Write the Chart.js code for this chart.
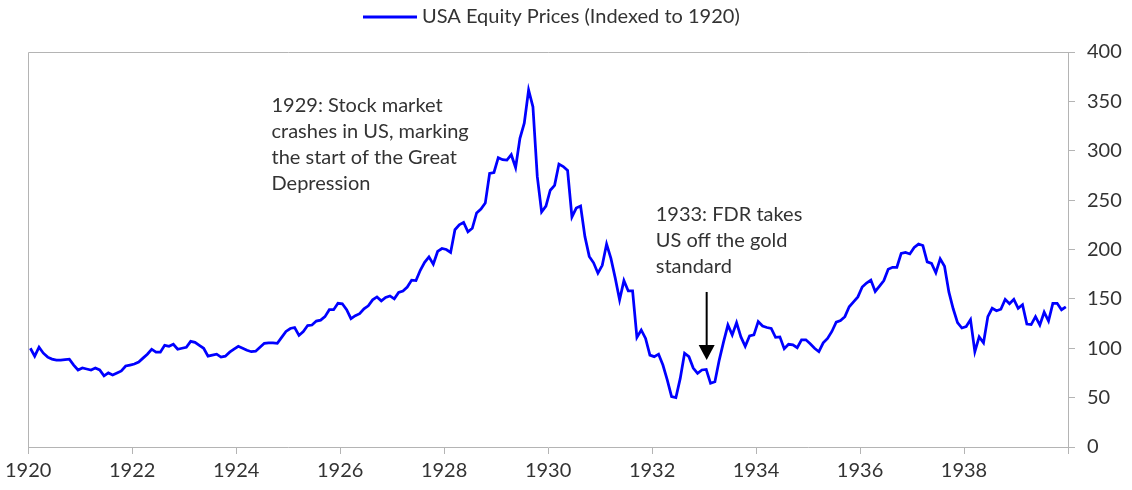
<!DOCTYPE html>
<html>
<head>
<meta charset="utf-8">
<title>USA Equity Prices</title>
<script src="https://cdn.jsdelivr.net/npm/chart.js@4.4.1/dist/chart.umd.min.js"></script>
<style>
    html, body { margin: 0; padding: 0; background: #fff; }
    #wrap { width: 1132px; height: 490px; }
</style>
</head>
<body>
<div id="wrap"><canvas id="myChart" width="1132" height="490"></canvas></div>
<script>
"use strict"

// monthly index, Jan 1920 = 100
const startYear = 1920;
const equity = [
    100, 92, 101, 95, 91, 89, 88, 88, 88.5, 89, 83, 78,                      // 1920
    80, 79, 78, 80, 78, 72, 75, 73, 75, 77, 82, 83,                          // 1921
    84, 86, 90, 94, 99, 96, 96, 103, 102, 104, 99, 100,                      // 1922
    101, 107, 106, 103, 100, 92, 93, 94, 91, 92, 96, 99,                     // 1923
    102, 100, 98, 96.5, 97, 101, 105, 105.5, 105.5, 105, 111, 117,           // 1924
    120, 121, 113, 117, 123, 123.5, 127.5, 128.5, 132, 139, 139, 145.5,      // 1925
    145, 139, 130, 133, 135, 140, 143, 149, 152, 148, 151.5, 153,            // 1926
    150, 156.5, 158, 162, 169, 168.5, 179, 187, 192.5, 185, 198, 201,        // 1927
    200, 197, 220, 225, 227.5, 218, 221.5, 237, 241, 247, 277, 278,          // 1928
    293, 291, 290.5, 296, 283, 312.5, 328, 361.5, 344.5, 274, 238, 244,      // 1929
    260, 265, 286.5, 284, 280, 233, 242, 244, 213, 193, 186.5, 176,          // 1930
    184, 205.5, 191, 171, 149, 168.5, 158, 158, 111, 118.5, 110, 93,         // 1931
    91.5, 94, 83, 68, 51, 50, 69.5, 95, 91.5, 80, 74.5, 78,                  // 1932
    78.5, 64.5, 66, 88, 106.5, 123.5, 113.5, 126, 111.5, 102, 112.5, 113.5,  // 1933
    127, 122.5, 121, 120, 111, 111.5, 99.5, 104, 103.5, 100.5, 108.5, 108.5, // 1934
    104.5, 100, 96.5, 105.5, 110, 117, 126.5, 128, 132, 142, 147, 152,       // 1935
    162, 166, 169, 157.5, 163, 168.5, 180, 182, 182, 196, 197, 195.5,        // 1936
    202, 205.5, 204, 187.5, 186, 176.5, 190.5, 183, 157, 140, 126, 120.5,    // 1937
    122, 129, 96.5, 111.5, 105.5, 132, 140.5, 138, 139.5, 149.5, 145, 149.5, // 1938
    140.5, 144, 124.5, 124, 132, 123.5, 136.5, 127.5, 145.5, 145.5, 139, 142 // 1939
];
const seriesLabel = "USA Equity Prices (Indexed to 1920)";
const xTicks = [1920, 1922, 1924, 1926, 1928, 1930, 1932, 1934, 1936, 1938];
const xEnd = 1940;
const yTicks = [0, 50, 100, 150, 200, 250, 300, 350, 400];

const notes = [
    { x: 1924.68, y: 345.5, lines: ["1929: Stock market", "crashes in US, marking", "the start of the Great", "Depression"] },
    { x: 1932.07, y: 235.4, lines: ["1933: FDR takes", "US off the gold", "standard"] }
];
const arrow = { x: 1933.05, from: 157, to: 88 };

const FONT = "Lato, 'Open Sans', sans-serif";
const TEXT = "#333333";
const AXIS = "#b4b4b4";

// points sit mid-month
const points = equity.map((v, i) => ({ x: startYear + (i + 0.5) / 12, y: v }));

const extras = {
    id: "extras",
    beforeDatasetsDraw(chart) {
        const { ctx, chartArea: a } = chart;
        ctx.save();
        ctx.strokeStyle = AXIS;
        ctx.lineWidth = 1;
        ctx.beginPath();
        ctx.moveTo(Math.round(a.left) + 0.5, Math.round(a.bottom));
        ctx.lineTo(Math.round(a.left) + 0.5, Math.round(a.top) + 0.5);
        ctx.lineTo(Math.round(a.right), Math.round(a.top) + 0.5);
        ctx.stroke();
        ctx.restore();
    },
    afterDraw(chart) {
        const { ctx, scales: { x, y } } = chart;
        ctx.save();

        // legend
        const ds = chart.data.datasets[0];
        ctx.strokeStyle = ds.borderColor;
        ctx.lineWidth = 3;
        ctx.beginPath();
        ctx.moveTo(363, 17);
        ctx.lineTo(417, 17);
        ctx.stroke();
        ctx.fillStyle = TEXT;
        ctx.font = "20px " + FONT;
        ctx.textBaseline = "middle";
        ctx.textAlign = "left";
        ctx.fillText(ds.label, 422, 17);

        // notes
        notes.forEach(n => {
            const px = x.getPixelForValue(n.x);
            const py = y.getPixelForValue(n.y);
            n.lines.forEach((t, i) => ctx.fillText(t, px, py + i * 25.9));
        });

        // arrow
        const ax = x.getPixelForValue(arrow.x);
        const y0 = y.getPixelForValue(arrow.from);
        const y1 = y.getPixelForValue(arrow.to);
        ctx.strokeStyle = "#000";
        ctx.fillStyle = "#000";
        ctx.lineWidth = 2;
        ctx.beginPath();
        ctx.moveTo(ax, y0);
        ctx.lineTo(ax, y1 - 12);
        ctx.stroke();
        ctx.beginPath();
        ctx.moveTo(ax - 8, y1 - 15);
        ctx.lineTo(ax + 8, y1 - 15);
        ctx.lineTo(ax, y1);
        ctx.closePath();
        ctx.fill();

        ctx.restore();
    }
};

const ctx = document.getElementById("myChart").getContext("2d");

new Chart(ctx, {
    type: "line",
    data: {
        datasets: [{
            label: seriesLabel,
            data: points,
            borderColor: "#0000ff",
            backgroundColor: "#0000ff",
            borderWidth: 2.75,
            pointRadius: 0,
            tension: 0,
            fill: false
        }]
    },
    options: {
        responsive: false,
        animation: false,
        devicePixelRatio: 1,
        layout: {
            padding: { top: 52, left: 28, right: 0, bottom: 0 }
        },
        scales: {
            x: {
                type: "linear",
                min: startYear,
                max: xEnd,
                afterBuildTicks: s => { s.ticks = xTicks.concat([xEnd]).map(v => ({ value: v })); },
                afterFit: s => { s.height = 43; },
                grid: { display: true, drawOnChartArea: false, tickLength: 7, color: AXIS },
                border: { display: true, color: AXIS },
                ticks: {
                    autoSkip: false,
                    maxRotation: 0,
                    padding: 5,
                    color: TEXT,
                    font: { family: FONT, size: 20 },
                    callback: v => v === xEnd ? "" : String(v)
                }
            },
            y: {
                position: "right",
                min: 0,
                max: 400,
                afterBuildTicks: s => { s.ticks = yTicks.map(v => ({ value: v })); },
                afterFit: s => { s.width = 64; },
                grid: { display: true, drawOnChartArea: false, tickLength: 7, color: AXIS },
                border: { display: true, color: AXIS },
                ticks: {
                    padding: 12,
                    color: TEXT,
                    font: { family: FONT, size: 20 }
                }
            }
        },
        plugins: {
            legend: { display: false },
            tooltip: { enabled: false }
        }
    },
    plugins: [extras]
});
</script>
</body>
</html>
